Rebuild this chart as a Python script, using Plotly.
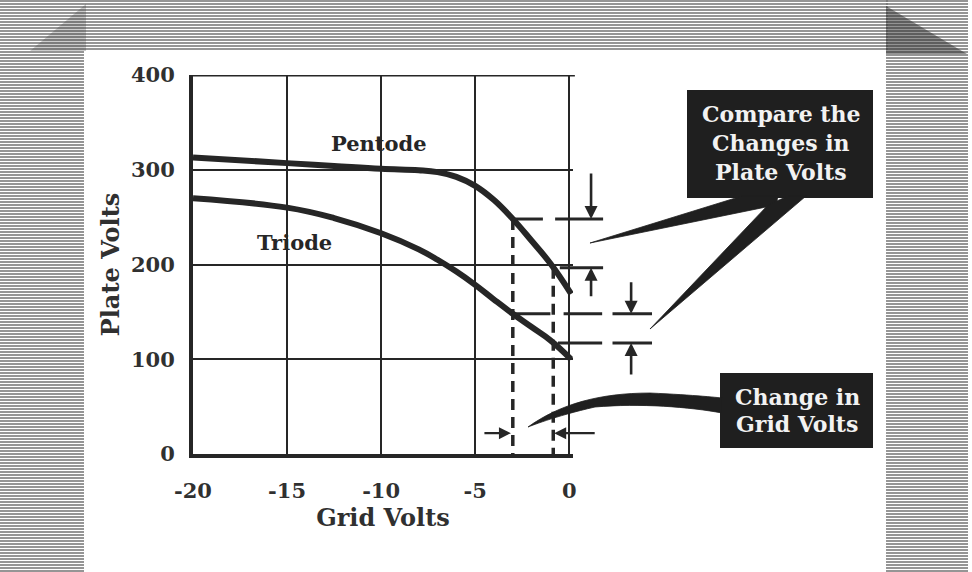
import numpy as np
import plotly.graph_objects as go

# ---- characteristic curves (plate volts vs. grid volts) ----
grid_volts = [-20, -15, -12.5, -10, -8, -7, -6, -5, -4, -3, -2, -1, 0.1]
pentode_volts = [313, 307, 304, 301, 299.5, 297.5, 292.5, 283, 268, 248, 225, 201, 169]
triode_volts = [270, 260, 249, 233, 216, 205, 192.5, 178.5, 163, 148, 134, 120, 100]

# grid-voltage swing used in the comparison
grid_swing = [-3.0, -0.85]

x_ticks = [-20, -15, -10, -5, 0]
y_ticks = [0, 100, 200, 300, 400]

X_RANGE = [-20, 0.2]
Y_RANGE = [0, 400]

FIG_W, FIG_H = 972, 572
M_L, M_R, M_T, M_B = 193, 399, 75, 118
PW, PH = FIG_W - M_L - M_R, FIG_H - M_T - M_B

INK = "#262626"
SERIF = "DejaVu Serif"


def xpaper(v):
    return (v - X_RANGE[0]) / (X_RANGE[1] - X_RANGE[0])


def ypaper(v):
    return (v - Y_RANGE[0]) / (Y_RANGE[1] - Y_RANGE[0])


def pix(px, py):
    """Page pixel -> paper coordinates."""
    return (px - M_L) / PW, (FIG_H - M_B - py) / PH


def path_from_pixels(points, close=True):
    parts = []
    for i, (px, py) in enumerate(points):
        x, y = pix(px, py)
        parts.append(("M" if i == 0 else "L") + f"{x:.4f},{y:.4f}")
    return " ".join(parts) + (" Z" if close else "")


def font(size, color=INK):
    return dict(family=SERIF, size=size, color=color, weight="bold")


# plate voltage at the two grid voltages
pent_at = np.interp(grid_swing, grid_volts, pentode_volts)
tri_at = np.interp(grid_swing, grid_volts, triode_volts)

fig = go.Figure()

# curves
for volts in (pentode_volts, triode_volts):
    fig.add_trace(go.Scatter(
        x=grid_volts, y=volts, mode="lines",
        line=dict(color=INK, width=6, shape="spline", smoothing=1.2),
        hoverinfo="skip", showlegend=False, cliponaxis=False))

# dashed drop lines from the pentode curve to the grid axis
for gx, top in zip(grid_swing, pent_at):
    fig.add_trace(go.Scatter(
        x=[gx, gx], y=[top, 0], mode="lines",
        line=dict(color=INK, width=3.5, dash="11px,7px"),
        hoverinfo="skip", showlegend=False, cliponaxis=False))

shapes = []

# halftone frame: stripes along the top, left and right edges
def stripes(x0, x1, y0, y1, step=3):
    parts = []
    for py in np.arange(y0, y1, step):
        a, b = pix(x0, py)
        c, _ = pix(x1, py)
        parts.append(f"M{a:.4f},{b:.5f} H{c:.4f}")
    return " ".join(parts)

for band in [(0, 84, 1, 572), (84, 888, 1, 52), (886, 968, 1, 572)]:
    shapes.append(dict(type="path", xref="paper", yref="paper",
                       path=stripes(*band),
                       line=dict(color="#737373", width=1.6)))

# darker shading in the top corners of the frame
shapes.append(dict(type="path", xref="paper", yref="paper",
                   path=path_from_pixels([(86, 4), (86, 51), (30, 51)]),
                   fillcolor="rgba(50,50,50,0.25)", line=dict(width=0)))
shapes.append(dict(type="path", xref="paper", yref="paper",
                   path=path_from_pixels([(886, 6), (967, 54), (886, 54)]),
                   fillcolor="rgba(40,40,40,0.5)", line=dict(width=0)))

# top border of the grid
shapes.append(dict(type="line", xref="paper", yref="y",
                   x0=0, x1=xpaper(0.3), y0=400, y1=400,
                   line=dict(color=INK, width=3)))

# tick lines marking the plate voltages on each curve
def hseg(x0, x1, yv):
    shapes.append(dict(type="line", xref="paper", yref="paper",
                       x0=xpaper(x0), x1=xpaper(x1),
                       y0=ypaper(yv), y1=ypaper(yv),
                       line=dict(color=INK, width=3)))

hseg(grid_swing[0], -1.4, pent_at[0])
hseg(-0.75, 1.8, pent_at[0])
hseg(-0.5, 1.8, pent_at[1])
hseg(grid_swing[0], -1.0, tri_at[0])
hseg(-0.3, 1.75, tri_at[0])
hseg(2.3, 4.4, tri_at[0])
hseg(-0.6, 1.75, tri_at[1])
hseg(2.3, 4.4, tri_at[1])

# callout boxes
for (x0, y0, x1, y1) in [(687, 90, 873, 198), (720, 373, 873, 448)]:
    a, b = pix(x0, y1)
    c, d = pix(x1, y0)
    shapes.append(dict(type="rect", xref="paper", yref="paper",
                       x0=a, y0=b, x1=c, y1=d,
                       fillcolor="#1f1f1f", line=dict(width=0)))

# pointers from the boxes
shapes.append(dict(type="path", xref="paper", yref="paper",
                   path=path_from_pixels([(590, 243), (742, 196), (778, 196), (776, 205)]),
                   fillcolor="#1f1f1f", line=dict(color="#1f1f1f", width=0.8)))
shapes.append(dict(type="path", xref="paper", yref="paper",
                   path=path_from_pixels([(650, 329), (768, 205), (788, 196), (806, 196)]),
                   fillcolor="#1f1f1f", line=dict(color="#1f1f1f", width=0.8)))

def curve_path(pts):
    out = []
    for px, py in pts:
        x, y = pix(px, py)
        out.append(f"{x:.4f},{y:.4f}")
    return out

up = curve_path([(528, 427), (560, 404), (600, 393), (650, 393), (695, 395), (722, 398)])
lo = curve_path([(722, 413), (690, 407), (640, 403), (595, 407), (555, 416), (528, 427)])
grid_ptr = ("M" + up[0] + " C" + up[1] + " " + up[2] + " " + up[3] +
            " C" + up[4] + " " + up[5] + " " + up[5] +
            " L" + lo[0] + " C" + lo[1] + " " + lo[2] + " " + lo[3] +
            " C" + lo[4] + " " + lo[5] + " " + lo[5] + " Z")
shapes.append(dict(type="path", xref="paper", yref="paper", path=grid_ptr,
                   fillcolor="#1f1f1f", line=dict(color="#1f1f1f", width=0.8)))

annotations = []

# curve labels
annotations.append(dict(x=-10.1, y=328, xref="x", yref="y", text="Pentode",
                        showarrow=False, font=font(21)))
annotations.append(dict(x=-14.6, y=223, xref="x", yref="y", text="Triode",
                        showarrow=False, font=font(21)))

# arrows pointing at the plate-voltage tick lines
def arrow(xv, yv, ay):
    annotations.append(dict(x=xpaper(xv), y=ypaper(yv), xref="paper", yref="paper",
                            text="", showarrow=True, ax=0, ay=ay,
                            arrowhead=2, arrowsize=1.0, arrowwidth=2.6,
                            arrowcolor=INK, standoff=0))

arrow(1.16, pent_at[0], -47)
arrow(1.16, pent_at[1], 30)
arrow(3.29, tri_at[0], -33)
arrow(3.29, tri_at[1], 33)

# arrows bracketing the grid swing
y_bracket = 22
annotations.append(dict(x=xpaper(grid_swing[0] - 0.1), y=ypaper(y_bracket),
                        xref="paper", yref="paper", text="", showarrow=True,
                        ax=-28, ay=0, arrowhead=2, arrowsize=1.0, arrowwidth=2.4,
                        arrowcolor=INK, standoff=0))
annotations.append(dict(x=xpaper(grid_swing[1] + 0.05), y=ypaper(y_bracket),
                        xref="paper", yref="paper", text="", showarrow=True,
                        ax=42, ay=0, arrowhead=2, arrowsize=1.0, arrowwidth=2.4,
                        arrowcolor=INK, standoff=0))

# callout texts
for text, (px, py) in [("Compare the", (781, 114)), ("Changes in", (781, 143)),
                       ("Plate Volts", (781, 172)),
                       ("Change in", (797, 397)), ("Grid Volts", (797, 424))]:
    x, y = pix(px, py)
    annotations.append(dict(x=x, y=y, xref="paper", yref="paper", text=text,
                            xanchor="center", yanchor="middle",
                            showarrow=False, font=font(22, "#f2f2f2")))

fig.update_layout(
    width=FIG_W, height=FIG_H,
    margin=dict(l=M_L, r=M_R, t=M_T, b=M_B, pad=0),
    paper_bgcolor="white", plot_bgcolor="white",
    shapes=shapes, annotations=annotations,
    showlegend=False,
    xaxis=dict(range=X_RANGE, tickvals=x_ticks,
               ticktext=[str(v) for v in x_ticks],
               showgrid=True, gridcolor=INK, gridwidth=2,
               showline=True, linecolor=INK, linewidth=4,
               zeroline=False, ticks="", ticklabelstandoff=15,
               tickfont=font(21, "#303030"),
               title=dict(text="Grid Volts", font=font(24, "#303030"), standoff=6)),
    yaxis=dict(range=Y_RANGE, tickvals=y_ticks,
               showgrid=True, gridcolor=INK, gridwidth=2,
               showline=True, linecolor=INK, linewidth=4,
               zeroline=False, ticks="", ticklabelstandoff=10,
               tickfont=font(21, "#303030"),
               title=dict(text="Plate Volts", font=font(24, "#303030"), standoff=6)),
)

fig.write_html("out.html")
